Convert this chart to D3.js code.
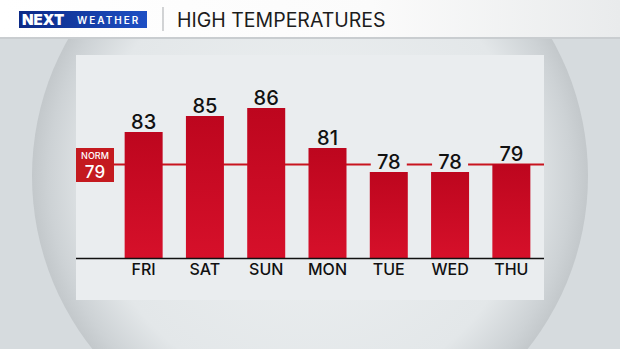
<!DOCTYPE html>
<html>
<head>
<meta charset="utf-8">
<script src="https://cdn.jsdelivr.net/npm/d3@7"></script>
<style>
  html, body { margin: 0; padding: 0; background: #d6dbde; }
  svg { display: block; }
</style>
</head>
<body>
<div id="chart"></div>
<script>
'use strict';

const days = ['FRI', 'SAT', 'SUN', 'MON', 'TUE', 'WED', 'THU'];
const highs = [83, 85, 86, 81, 78, 78, 79];
const normal = 79;
const title = 'HIGH TEMPERATURES';

const W = 620, H = 349;

const svg = d3.select('#chart').append('svg')
  .attr('width', W)
  .attr('height', H);

const defs = svg.append('defs');

// sphere backdrop
const sphere = defs.append('radialGradient').attr('id', 'sphere')
  .attr('cx', '50%').attr('cy', '50%').attr('r', '50%');
sphere.append('stop').attr('offset', '0%').attr('stop-color', '#eef1f2');
sphere.append('stop').attr('offset', '78%').attr('stop-color', '#e3e7e9');
sphere.append('stop').attr('offset', '94%').attr('stop-color', '#cdd2d5');
sphere.append('stop').attr('offset', '100%').attr('stop-color', '#c3c8cb');

const barGrad = defs.append('linearGradient').attr('id', 'bar')
  .attr('x1', 0).attr('y1', 0).attr('x2', 0).attr('y2', 1);
barGrad.append('stop').attr('offset', '0%').attr('stop-color', '#bd061e');
barGrad.append('stop').attr('offset', '100%').attr('stop-color', '#d6102a');

const headGrad = defs.append('linearGradient').attr('id', 'head')
  .attr('x1', 0).attr('y1', 0).attr('x2', 1).attr('y2', 0);
headGrad.append('stop').attr('offset', '0%').attr('stop-color', '#ffffff');
headGrad.append('stop').attr('offset', '60%').attr('stop-color', '#fbfbfb');
headGrad.append('stop').attr('offset', '100%').attr('stop-color', '#e9ebec');

const logoGrad = defs.append('linearGradient').attr('id', 'logo')
  .attr('x1', 0).attr('y1', 0).attr('x2', 1).attr('y2', 0);
logoGrad.append('stop').attr('offset', '0%').attr('stop-color', '#0c2a86');
logoGrad.append('stop').attr('offset', '100%').attr('stop-color', '#1d4fc4');

svg.append('rect').attr('width', W).attr('height', H).attr('fill', '#d6dbde');
svg.append('circle').attr('cx', 310).attr('cy', 176).attr('r', 278)
  .attr('fill', 'url(#sphere)');

// header
svg.append('rect').attr('width', W).attr('height', 37).attr('fill', 'url(#head)');
svg.append('rect').attr('y', 37).attr('width', W).attr('height', 2).attr('fill', '#c9cdd0');

svg.append('rect').attr('x', 19).attr('y', 11).attr('width', 128).attr('height', 17)
  .attr('fill', 'url(#logo)');
svg.append('text').attr('x', 22).attr('y', 25)
  .attr('font-family', 'Inter, sans-serif').attr('font-weight', 900)
  .attr('font-size', 15).attr('fill', '#fff').attr('letter-spacing', 0)
  .text('NEXT');
svg.append('text').attr('x', 77).attr('y', 24)
  .attr('font-family', 'Inter, sans-serif').attr('font-weight', 600)
  .attr('font-size', 10).attr('fill', '#fff').attr('letter-spacing', 2)
  .text('WEATHER');
svg.append('line').attr('x1', 163).attr('x2', 163).attr('y1', 7).attr('y2', 31)
  .attr('stroke', '#b5b8ba').attr('stroke-width', 1.2);
svg.append('text').attr('x', 177).attr('y', 27)
  .attr('font-family', 'Inter, sans-serif').attr('font-weight', 400)
  .attr('font-size', 19.5).attr('fill', '#1c1c1c').attr('letter-spacing', 0)
  .text(title);

// chart panel
const panel = { left: 76, right: 544, top: 55, bottom: 300 };
svg.append('rect')
  .attr('x', panel.left).attr('y', panel.top)
  .attr('width', panel.right - panel.left).attr('height', panel.bottom - panel.top)
  .attr('fill', '#eaedef');

const xScale = d3.scaleBand()
  .domain(days)
  .range([113, 542])
  .paddingInner(0.38)
  .paddingOuter(0.19);

const yScale = d3.scaleLinear()
  .domain([67.25, 86])
  .range([258, 108]);

// normal line
const normY = yScale(normal) + 0.5;
svg.append('line')
  .attr('x1', 113).attr('x2', panel.right)
  .attr('y1', normY).attr('y2', normY)
  .attr('stroke', '#c8141f').attr('stroke-width', 2);

// bars
svg.append('g').selectAll('rect')
  .data(highs)
  .join('rect')
  .attr('x', (d, i) => xScale(days[i]))
  .attr('y', d => yScale(d))
  .attr('width', xScale.bandwidth())
  .attr('height', d => yScale.range()[0] - yScale(d))
  .attr('fill', 'url(#bar)');

// value labels, with a patch that breaks the norm line
const labels = svg.append('g').selectAll('g')
  .data(highs)
  .join('g')
  .attr('transform', (d, i) =>
    'translate(' + (xScale(days[i]) + xScale.bandwidth() / 2) + ',' + (yScale(d) - 3) + ')');
labels.filter(d => d <= normal + 1.5)
  .append('rect')
  .attr('x', -18).attr('y', -17).attr('width', 36).attr('height', 17)
  .attr('fill', '#eaedef');
labels.append('text')
  .attr('text-anchor', 'middle')
  .attr('font-family', 'Inter, sans-serif').attr('font-weight', 500)
  .attr('font-size', 20).attr('fill', '#111')
  .text(d => d);

// baseline + day axis
const axis = svg.append('g')
  .attr('transform', 'translate(0,' + yScale.range()[0] + ')')
  .call(d3.axisBottom(xScale).tickSize(0).tickPadding(6));
axis.select('.domain').remove();
axis.selectAll('text')
  .attr('font-family', 'Inter, sans-serif').attr('font-weight', 500)
  .attr('font-size', 16).attr('fill', '#111');
svg.append('line')
  .attr('x1', panel.left).attr('x2', panel.right)
  .attr('y1', yScale.range()[0] + 0.5).attr('y2', yScale.range()[0] + 0.5)
  .attr('stroke', '#111').attr('stroke-width', 1.5);

// NORM box
svg.append('rect').attr('x', 76).attr('y', 148).attr('width', 38).attr('height', 34)
  .attr('fill', '#c41a1f');
svg.append('text').attr('x', 95).attr('y', 159).attr('text-anchor', 'middle')
  .attr('font-family', 'Inter, sans-serif').attr('font-weight', 500)
  .attr('font-size', 9).attr('fill', '#fff')
  .text('NORM');
svg.append('text').attr('x', 95).attr('y', 178).attr('text-anchor', 'middle')
  .attr('font-family', 'Inter, sans-serif').attr('font-weight', 500)
  .attr('font-size', 17).attr('fill', '#fff')
  .text(normal);
</script>
</body>
</html>
